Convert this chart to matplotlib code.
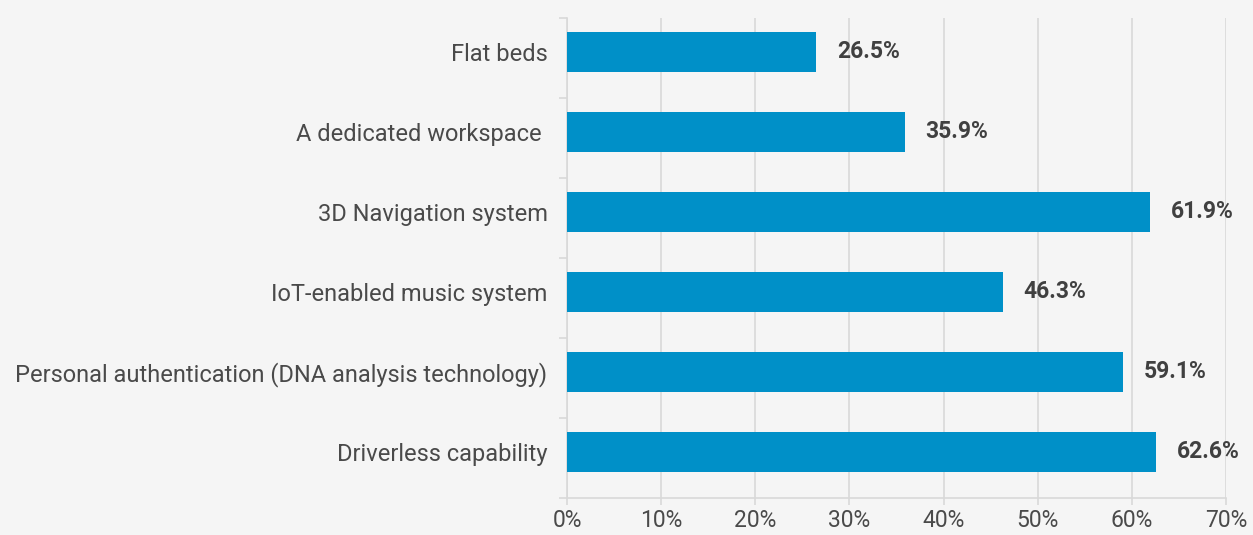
import matplotlib
matplotlib.use("Agg")
import matplotlib.pyplot as plt
from matplotlib.ticker import FixedLocator, PercentFormatter

categories = [
    "Flat beds",
    "A dedicated workspace ",
    "3D Navigation system",
    "IoT-enabled music system",
    "Personal authentication (DNA analysis technology)",
    "Driverless capability",
]
values = [26.5, 35.9, 61.9, 46.3, 59.1, 62.6]
x_ticks = [0, 10, 20, 30, 40, 50, 60, 70]

bg = "#f5f5f5"
bar_color = "#0090c8"
text_color = "#404040"
line_color = "#d9d9d9"

plt.rcParams["font.family"] = ["Roboto", "DejaVu Sans"]

fig = plt.figure(figsize=(12.53, 5.35), dpi=100, facecolor=bg)
ax = fig.add_axes([567 / 1253, 1 - 498 / 535, (1226 - 567) / 1253, 480 / 535])
ax.set_facecolor(bg)

# bars sit slightly above the middle of each category band
shift = -0.075
slots = list(range(len(categories)))
centers = [s + shift for s in slots]
ax.barh(centers, values, height=0.5, color=bar_color, zorder=3)
ax.set_ylim(len(categories) - 0.5, -0.5)
ax.set_xlim(0, 70)

for y, v in zip(centers, values):
    ax.text(v + 2.2, y, f"{v:.1f}%", va="center", ha="left",
            fontsize=16.5, fontweight="bold", color=text_color, zorder=4)

# category labels without tick marks, tick marks at the category boundaries
ax.set_yticks(centers)
ax.set_yticklabels(categories, fontsize=17, color="#4a4a4a")
ax.tick_params(axis="y", length=0, pad=14)
ax.yaxis.set_minor_locator(FixedLocator([i - 0.5 for i in range(len(categories) + 1)]))
ax.tick_params(axis="y", which="minor", length=6, width=1.2, color=line_color)

ax.set_xticks(x_ticks)
ax.xaxis.set_major_formatter(PercentFormatter(decimals=0))
ax.tick_params(axis="x", length=5, width=1.2, color=line_color, labelsize=16.5,
               labelcolor="#4a4a4a", pad=3)
ax.grid(axis="x", color=line_color, linewidth=1.2, zorder=0)

for side in ("top", "right"):
    ax.spines[side].set_visible(False)
for side in ("left", "bottom"):
    ax.spines[side].set_color(line_color)
    ax.spines[side].set_linewidth(1.2)

fig.savefig("out.png", dpi=100, facecolor=bg)
